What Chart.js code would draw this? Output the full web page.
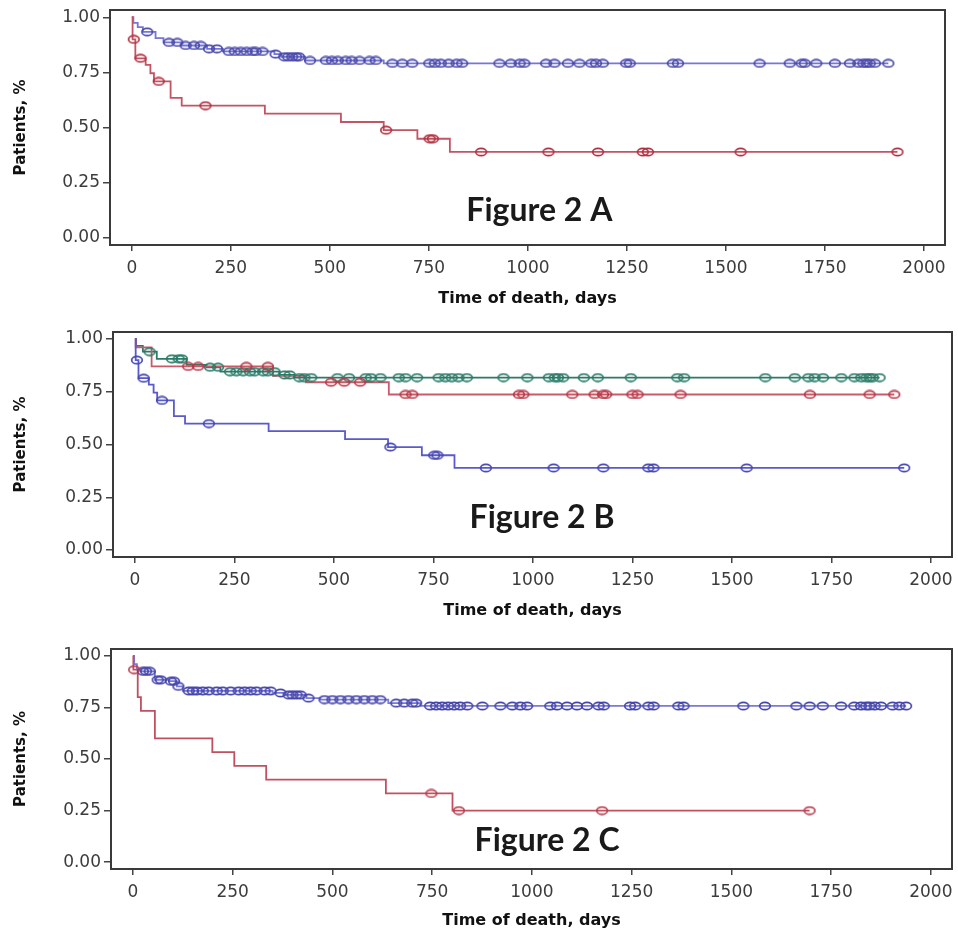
<!DOCTYPE html>
<html>
<head>
<meta charset="utf-8">
<title>Figure 2</title>
<script src="https://cdn.jsdelivr.net/npm/chart.js@4.4.1/dist/chart.umd.min.js"></script>
<style>
  html, body { margin: 0; padding: 0; background: #fff; }
  body { width: 958px; height: 932px; position: relative; overflow: hidden; }
  .panel { position: absolute; left: 0; width: 958px; }
  .panel canvas { display: block; }
</style>
</head>
<body>
<div class="panel" style="top:0;height:310px"><canvas id="chart-a" width="958" height="310"></canvas></div>
<div class="panel" style="top:322px;height:300px"><canvas id="chart-b" width="958" height="300"></canvas></div>
<div class="panel" style="top:639px;height:293px"><canvas id="chart-c" width="958" height="293"></canvas></div>
<script>
// ── AXES ──
const xTicks = [0, 250, 500, 750, 1000, 1250, 1500, 1750, 2000]
const yTicks = [0, 0.25, 0.5, 0.75, 1]
const xTitle = 'Time of death, days'
const yTitle = 'Patients, %'

// ── FIGURE 2 A ──
const aBlueTimes = [0, 4, 15, 28, 60, 80, 125, 190, 230, 360, 378, 438, 636]
const aBlueSurv = [1, 0.975, 0.955, 0.934, 0.905, 0.886, 0.872, 0.857, 0.845, 0.833, 0.821, 0.804, 0.791]
const aBlueCensor = [39, 94, 115, 136, 157, 174, 195, 215, 245, 260, 275, 290, 305, 313, 330, 363, 385, 395, 405, 415, 422,
  450, 490, 505, 520, 540, 555, 575, 600, 616, 658, 683, 708, 751, 765, 780, 800, 820, 834, 928, 957, 979, 991, 1046, 1067,
  1101, 1130, 1160, 1172, 1189, 1248, 1257, 1366, 1379, 1585, 1661, 1691, 1699, 1728, 1775, 1813, 1834, 1847, 1855, 1863,
  1876, 1910]
const aRedTimes = [0, 2, 9, 35, 47, 56, 98, 126, 336, 528, 636, 721, 803]
const aRedSurv = [1, 0.90, 0.814, 0.784, 0.746, 0.709, 0.634, 0.599, 0.563, 0.525, 0.488, 0.449, 0.389]
const aRedCensor = [5, 22, 68, 186, 642, 752, 760, 882, 1052, 1177, 1290, 1303, 1537, 1933]

// ── FIGURE 2 B ──
const bGreenTimes = [0, 3, 20, 55, 130, 180, 215, 363, 400]
const bGreenSurv = [1, 0.967, 0.94, 0.906, 0.877, 0.866, 0.845, 0.83, 0.817]
const bGreenCensor = [37, 93, 110, 118, 189, 209, 239, 255, 272, 289, 301, 322, 334, 351, 376, 389, 413, 426, 443, 509, 538,
  580, 593, 617, 663, 680, 709, 763, 780, 796, 813, 834, 926, 986, 1040, 1055, 1063, 1076, 1128, 1163, 1246, 1363, 1380,
  1584, 1658, 1692, 1708, 1729, 1775, 1808, 1825, 1838, 1846, 1854, 1871]
const bRedTimes = [0, 2, 42, 347, 430, 638]
const bRedSurv = [1, 0.96, 0.87, 0.825, 0.795, 0.737]
const bRedCensor = [134, 159, 280, 334, 493, 526, 566, 680, 697, 965, 976, 1099, 1155, 1176, 1184, 1250, 1263, 1371, 1696,
  1846, 1908]
const bBlueTimes = [0, 2, 9, 35, 47, 56, 98, 126, 336, 528, 636, 721, 803]
const bBlueSurv = [1, 0.90, 0.814, 0.784, 0.746, 0.709, 0.634, 0.599, 0.563, 0.525, 0.488, 0.449, 0.389]
const bBlueCensor = [5, 22, 68, 186, 642, 752, 760, 882, 1052, 1177, 1290, 1303, 1537, 1933]

// ── FIGURE 2 C ──
const cBlueTimes = [0, 3, 10, 20, 55, 90, 110, 125, 350, 380, 435, 470, 640, 720]
const cBlueSurv = [1, 0.96, 0.935, 0.925, 0.884, 0.877, 0.852, 0.83, 0.82, 0.811, 0.795, 0.788, 0.771, 0.757]
const cBlueCensor = [25, 33, 42, 62, 70, 95, 103, 114, 140, 150, 160, 175, 190, 210, 225, 245, 265, 280, 295, 310, 330, 345,
  370, 390, 400, 410, 420, 440, 480, 500, 520, 540, 560, 580, 600, 620, 660, 680, 700, 710, 745, 760, 775, 790, 805, 820,
  838, 876, 921, 951, 971, 988, 1046, 1063, 1088, 1113, 1138, 1167, 1180, 1246, 1259, 1292, 1305, 1367, 1380, 1530, 1584,
  1663, 1696, 1729, 1775, 1808, 1825, 1838, 1846, 1859, 1875, 1904, 1921, 1938]
const cRedTimes = [0, 1, 12, 20, 55, 199, 254, 334, 634, 801]
const cRedSurv = [1, 0.933, 0.80, 0.733, 0.60, 0.533, 0.467, 0.40, 0.333, 0.25]
const cRedCensor = [3, 748, 817, 1176, 1696]

// ── HELPERS ──
function ovalMarker(color) {
  const c = document.createElement('canvas')
  c.width = 14
  c.height = 10
  const g = c.getContext('2d')
  g.strokeStyle = color
  g.lineWidth = 1.7
  g.beginPath()
  g.ellipse(7, 5, 5.3, 3.7, 0, 0, Math.PI * 2)
  g.stroke()
  return c
}

function survAt(times, surv, t) {
  let s = surv[0]
  for (let i = 0; i < times.length; i++) if (times[i] <= t) s = surv[i]
  return s
}

function kmSeries(times, surv, censor, lineColor, markColor) {
  const end = Math.max(times[times.length - 1], censor[censor.length - 1])
  const steps = times.map((t, i) => ({ x: t, y: surv[i] }))
  steps.push({ x: end, y: surv[surv.length - 1] })
  return [
    { data: steps, showLine: true, stepped: true, borderColor: lineColor, borderWidth: 1.8, pointRadius: 0, order: 2 },
    {
      data: censor.map(t => ({ x: t, y: survAt(times, surv, t) })),
      showLine: false, pointStyle: ovalMarker(markColor), pointRadius: 5, order: 1
    }
  ]
}

// frame box + big panel label
const framePlugin = {
  id: 'frame',
  afterDraw(chart, args, opts) {
    const { ctx, chartArea: a, scales } = chart
    ctx.save()
    ctx.strokeStyle = '#3a3a3a'
    ctx.lineWidth = 2
    ctx.strokeRect(a.left, a.top, a.right - a.left, a.bottom - a.top)
    ctx.font = 'bold 32px Lato'
    ctx.fillStyle = '#1a1a1a'
    ctx.textAlign = 'center'
    ctx.textBaseline = 'alphabetic'
    ctx.fillText(opts.text, scales.x.getPixelForValue(opts.x), scales.y.getPixelForValue(opts.y))
    ctx.restore()
  }
}

const tickFont = { family: 'DejaVu Sans', size: 17 }

function makeKM(id, series, label, box) {
  return new Chart(document.getElementById(id), {
    type: 'scatter',
    data: { datasets: series.flat() },
    options: {
      responsive: false,
      animation: false,
      events: [],
      layout: { padding: { top: box.top, right: box.right, left: 0, bottom: 0 } },
      plugins: { legend: { display: false }, tooltip: { enabled: false }, frame: label },
      scales: {
        x: {
          type: 'linear', min: -55, max: 2053,
          afterBuildTicks: s => { s.ticks = xTicks.map(v => ({ value: v })) },
          afterFit: s => { s.height = box.xH; s.paddingLeft = 0; s.paddingRight = 0 },
          border: { display: false },
          grid: { drawOnChartArea: false, drawTicks: true, tickLength: 6, color: '#444', lineWidth: 1.5 },
          ticks: { color: '#3c3c3c', font: tickFont, padding: 7, maxRotation: 0, autoSkip: false, callback: v => String(v) },
          title: {
            display: true, text: xTitle, color: '#111',
            font: { family: 'DejaVu Sans', size: 16, weight: 'bold' }, padding: { top: 0, bottom: 2 }
          }
        },
        y: {
          type: 'linear', min: -0.033, max: 1.033,
          afterBuildTicks: s => { s.ticks = yTicks.map(v => ({ value: v })) },
          afterFit: s => { s.width = box.yW; s.paddingTop = 0; s.paddingBottom = 0 },
          border: { display: false },
          grid: { drawOnChartArea: false, drawTicks: true, tickLength: 7, color: '#444', lineWidth: 1.5 },
          ticks: { color: '#3c3c3c', font: tickFont, padding: 3, callback: v => v.toFixed(2) },
          title: {
            display: true, text: yTitle, color: '#111',
            font: { family: 'DejaVu Sans', size: 15, weight: 'bold' }, padding: { top: 12, bottom: 0 }
          }
        }
      }
    },
    plugins: [framePlugin]
  })
}

// ── INIT ──
makeKM('chart-a', [
  kmSeries(aRedTimes, aRedSurv, aRedCensor, '#c25464', '#b03242'),
  kmSeries(aBlueTimes, aBlueSurv, aBlueCensor, '#7676d6', '#4848aa')
], { text: 'Figure 2 A', x: 1029, y: 0.078 }, { top: 10, right: 13, yW: 110, xH: 65 })

makeKM('chart-b', [
  kmSeries(bBlueTimes, bBlueSurv, bBlueCensor, '#5a5acc', '#4646b0'),
  kmSeries(bRedTimes, bRedSurv, bRedCensor, '#c85a6a', '#b83848'),
  kmSeries(bGreenTimes, bGreenSurv, bGreenCensor, '#2b7a68', '#2b7a68')
], { text: 'Figure 2 B', x: 1023, y: 0.103 }, { top: 10, right: 2, yW: 113, xH: 65 })

makeKM('chart-c', [
  kmSeries(cRedTimes, cRedSurv, cRedCensor, '#c05060', '#b84050'),
  kmSeries(cBlueTimes, cBlueSurv, cBlueCensor, '#7a7ad8', '#4545aa')
], { text: 'Figure 2 C', x: 1038, y: 0.054 }, { top: 10, right: 2, yW: 111, xH: 63 })
</script>
</body>
</html>
